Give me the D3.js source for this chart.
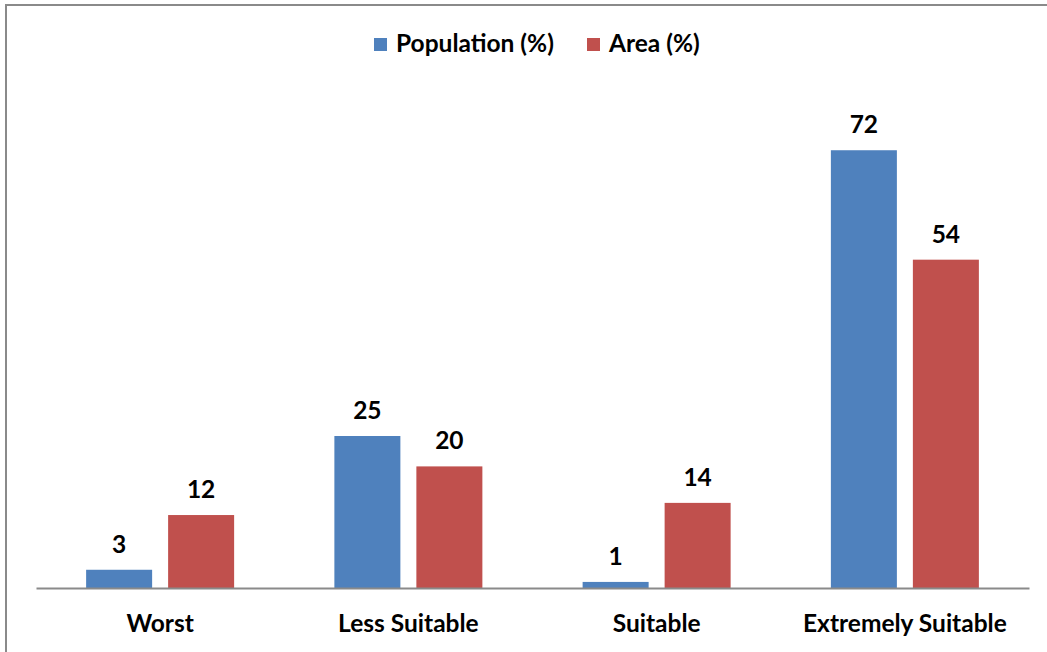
<!DOCTYPE html>
<html>
<head>
<meta charset="utf-8">
<script src="https://cdn.jsdelivr.net/npm/d3@7"></script>
<style>
  html, body { margin: 0; padding: 0; background: #fff; }
  svg { display: block; font-family: Lato, "Open Sans", sans-serif; font-weight: bold; }
</style>
</head>
<body>
<svg id="chart" width="1047" height="652"></svg>
<script>
// Suitability classes and the share of population / area in each
const categories = ["Worst", "Less Suitable", "Suitable", "Extremely Suitable"];
const seriesNames = ["Population (%)", "Area (%)"];
const population = [3, 25, 1, 72];
const area = [12, 20, 14, 54];
const colors = ["#4F81BD", "#C0504D"];

const svg = d3.select("#chart");
const FONT = 24.5;

// outer chart frame (extends past the right and bottom edges)
svg.append("rect")
  .attr("x", 6).attr("y", 5)
  .attr("width", 1200).attr("height", 800)
  .attr("fill", "#fff")
  .attr("stroke", "#8a8a8a").attr("stroke-width", 2);

const plot = { left: 36, right: 1029, top: 100, bottom: 588 };
const groupWidth = 148;

const x0 = d3.scaleBand()
  .domain(categories)
  .range([plot.left, plot.right])
  .paddingInner(0).paddingOuter(0);

const x1 = d3.scaleBand()
  .domain(seriesNames)
  .range([0, groupWidth])
  .paddingInner(0.195);

const y = d3.scaleLinear()
  .domain([0, 80])
  .range([plot.bottom, plot.bottom - 80 * 6.08]);

const rows = categories.map((c, i) => ({
  cat: c,
  vals: [
    { s: seriesNames[0], v: population[i], c: colors[0] },
    { s: seriesNames[1], v: area[i], c: colors[1] }
  ]
}));

const groups = svg.append("g").selectAll("g")
  .data(rows).join("g")
  .attr("transform", d => `translate(${x0(d.cat) + (x0.bandwidth() - groupWidth) / 2},0)`);

groups.selectAll("rect")
  .data(d => d.vals).join("rect")
  .attr("x", d => x1(d.s))
  .attr("width", x1.bandwidth())
  .attr("y", d => y(d.v))
  .attr("height", d => y(0) - y(d.v))
  .attr("fill", d => d.c);

// value labels above each bar
groups.selectAll("text")
  .data(d => d.vals).join("text")
  .attr("x", d => x1(d.s) + x1.bandwidth() / 2)
  .attr("y", d => y(d.v) - 17)
  .attr("text-anchor", "middle")
  .attr("font-size", FONT)
  .attr("fill", "#000")
  .text(d => d.v);

// category axis
const xAxis = svg.append("g")
  .attr("transform", `translate(0,${plot.bottom})`)
  .call(d3.axisBottom(x0).tickSize(0).tickPadding(0));
xAxis.select(".domain").attr("stroke", "#8a8a8a").attr("stroke-width", 2);
xAxis.selectAll("text")
  .attr("y", 44)
  .attr("dy", 0)
  .attr("font-size", FONT)
  .attr("font-family", "Lato, sans-serif")
  .attr("font-weight", "bold")
  .attr("fill", "#000");

// legend
const legendItems = [
  { name: seriesNames[0], color: colors[0], x: 374 },
  { name: seriesNames[1], color: colors[1], x: 587 }
];
const legend = svg.append("g").selectAll("g")
  .data(legendItems).join("g")
  .attr("transform", d => `translate(${d.x},38)`);
legend.append("rect")
  .attr("width", 13).attr("height", 13)
  .attr("fill", d => d.color);
legend.append("text")
  .attr("x", 22).attr("y", 14)
  .attr("font-size", FONT)
  .attr("fill", "#000")
  .text(d => d.name);
</script>
</body>
</html>
